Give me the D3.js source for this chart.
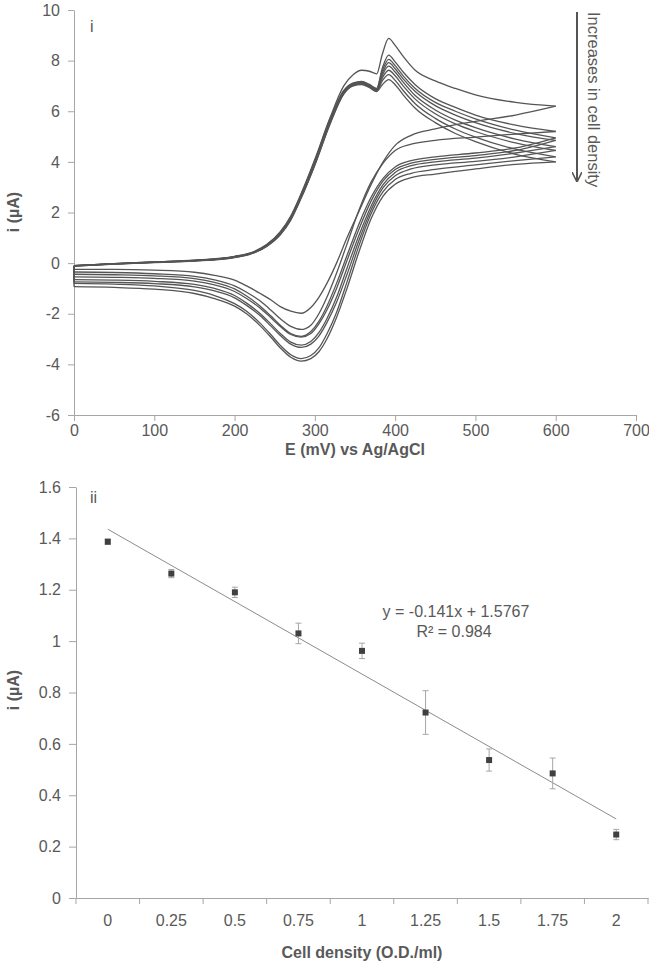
<!DOCTYPE html>
<html><head><meta charset="utf-8">
<script src="https://cdn.jsdelivr.net/npm/d3@7/dist/d3.min.js"></script>
<style>
html,body{margin:0;padding:0;background:#fff;}
text{font-family:"Liberation Sans",Arial,sans-serif;}
</style></head>
<body><svg id="c" width="649" height="964"></svg>
<script>
// ---------- Panel i : cyclic voltammograms ----------
const fwdE = [0, 50, 100, 150, 200, 225, 240, 257, 270, 282, 300, 319, 336, 348, 358, 368, 377, 384, 392, 400, 410, 425, 450, 475, 500, 550, 600];
const revE = [600, 550, 500, 450, 420, 400, 385, 370, 355, 340, 327, 315, 305, 295, 283, 270, 257, 245, 232, 215, 200, 175, 150, 100, 50, 0];

const fwdA = [-0.10,-0.02,0.05,0.12,0.27,0.47,0.73,1.24,1.86,2.68,4.10,5.75,7.00,7.45,7.62,7.58,7.48,8.25,8.88,8.60,8.17,7.62,7.20,6.90,6.65,6.35,6.20];
const fwdB = [-0.10,-0.02,0.05,0.11,0.26,0.46,0.72,1.22,1.83,2.64,4.05,5.70,6.82,7.12,7.18,7.06,6.90,7.70,8.22,7.95,7.55,7.05,6.50,6.15,5.85,5.45,5.20];
const fwdC = [-0.10,-0.02,0.04,0.11,0.25,0.45,0.71,1.20,1.80,2.62,4.02,5.66,6.79,7.10,7.16,7.04,6.88,7.60,8.05,7.80,7.40,6.90,6.35,6.00,5.70,5.25,4.95];
const fwdD = [-0.10,-0.03,0.04,0.10,0.25,0.44,0.70,1.19,1.79,2.60,4.00,5.63,6.77,7.08,7.14,7.02,6.86,7.50,7.92,7.68,7.28,6.78,6.22,5.85,5.55,5.12,4.85];
const fwdE2= [-0.11,-0.03,0.04,0.10,0.24,0.43,0.69,1.17,1.77,2.57,3.97,5.60,6.75,7.06,7.12,7.00,6.84,7.42,7.78,7.55,7.15,6.62,6.05,5.65,5.35,4.90,4.60];
const fwdF = [-0.11,-0.03,0.03,0.09,0.24,0.43,0.68,1.16,1.75,2.55,3.94,5.57,6.73,7.05,7.10,6.98,6.82,7.32,7.62,7.40,7.00,6.48,5.90,5.50,5.20,4.75,4.45];
const fwdG = [-0.12,-0.04,0.03,0.09,0.23,0.42,0.67,1.14,1.73,2.52,3.90,5.53,6.70,7.03,7.08,6.96,6.80,7.20,7.45,7.22,6.82,6.30,5.72,5.30,4.98,4.50,4.20];
const fwdH = [-0.12,-0.04,0.02,0.08,0.22,0.41,0.66,1.12,1.70,2.50,3.87,5.50,6.68,7.00,7.05,6.93,6.78,7.05,7.25,7.05,6.65,6.12,5.55,5.12,4.80,4.30,4.00];

const revA = [6.20,5.85,5.60,5.30,5.05,4.65,4.00,3.10,2.05,1.00,0.00,-0.80,-1.35,-1.75,-1.98,-1.90,-1.72,-1.45,-1.20,-0.90,-0.67,-0.48,-0.36,-0.28,-0.25,-0.25];
const revB = [5.20,5.10,4.98,4.85,4.70,4.45,3.95,3.20,2.10,0.75,-0.40,-1.35,-2.00,-2.45,-2.62,-2.50,-2.20,-1.85,-1.50,-1.15,-0.90,-0.66,-0.52,-0.42,-0.37,-0.35];
const revC = [4.95,4.55,4.35,4.20,4.05,3.80,3.35,2.60,1.55,0.30,-0.80,-1.70,-2.30,-2.70,-2.89,-2.78,-2.45,-2.08,-1.70,-1.30,-1.02,-0.76,-0.61,-0.50,-0.46,-0.44];
const revD = [4.85,4.45,4.25,4.10,3.95,3.70,3.25,2.45,1.35,0.10,-1.00,-1.85,-2.40,-2.78,-2.92,-2.82,-2.50,-2.15,-1.78,-1.40,-1.12,-0.86,-0.71,-0.60,-0.56,-0.54];
const revE2= [4.60,4.35,4.15,4.00,3.85,3.58,3.10,2.25,1.10,-0.20,-1.35,-2.20,-2.75,-3.10,-3.24,-3.12,-2.78,-2.40,-2.00,-1.58,-1.28,-1.00,-0.84,-0.72,-0.67,-0.65];
const revF = [4.45,4.20,4.02,3.88,3.72,3.45,2.98,2.10,0.90,-0.45,-1.55,-2.35,-2.88,-3.20,-3.33,-3.20,-2.86,-2.48,-2.08,-1.67,-1.37,-1.10,-0.94,-0.81,-0.76,-0.74];
const revG = [4.20,4.05,3.88,3.70,3.55,3.30,2.82,1.95,0.70,-0.75,-1.95,-2.80,-3.35,-3.65,-3.77,-3.62,-3.25,-2.82,-2.38,-1.90,-1.60,-1.28,-1.08,-0.90,-0.83,-0.80];
const revH = [4.00,3.90,3.72,3.52,3.38,3.12,2.65,1.75,0.45,-1.00,-2.15,-3.00,-3.50,-3.77,-3.87,-3.72,-3.35,-2.92,-2.48,-2.00,-1.70,-1.40,-1.20,-1.03,-0.96,-0.93];

const forwardScans = [fwdA, fwdB, fwdC, fwdD, fwdE2, fwdF, fwdG, fwdH];
const reverseScans = [revA, revB, revC, revD, revE2, revF, revG, revH];

const topXTicks = [0,100,200,300,400,500,600,700];
const topYTicks = [-6,-4,-2,0,2,4,6,8,10];

// ---------- Panel ii : peak current vs cell density ----------
const densityLabels = ["0","0.25","0.5","0.75","1","1.25","1.5","1.75","2"];
const peakCurrent   = [1.387, 1.263, 1.190, 1.030, 0.962, 0.722, 0.537, 0.485, 0.247];
const peakError     = [0.010, 0.016, 0.020, 0.040, 0.030, 0.085, 0.043, 0.060, 0.020];
const trendEnds     = [1.4357, 0.3077];
const botYTicks = [0,0.2,0.4,0.6,0.8,1,1.2,1.4,1.6];

const svg = d3.select("#c");
const TXT = "#595959", AX = "#a6a6a6";
const plain = d => String(+(+d).toFixed(2));

// ===== Panel i =====
const x1 = d3.scaleLinear().domain([0,700]).range([74,636]);
const y1 = d3.scaleLinear().domain([-6,10]).range([415,10]);

const gT = svg.append("g");
const yAx1 = gT.append("g").attr("transform","translate(74,0)")
  .call(d3.axisLeft(y1).tickValues(topYTicks).tickFormat(plain).tickSize(6).tickPadding(8).tickSizeOuter(0));
const xAx1 = gT.append("g").attr("transform","translate(0,415)")
  .call(d3.axisBottom(x1).tickValues(topXTicks).tickFormat(plain).tickSize(6).tickPadding(4).tickSizeOuter(0));
[yAx1,xAx1].forEach(a=>{
  a.selectAll("path,line").attr("stroke",AX);
  a.selectAll("text").attr("fill",TXT).style("font-size","16px").style("font-family","Liberation Sans, Arial, sans-serif");
});

const line1 = d3.line().x(d=>x1(d[0])).y(d=>y1(d[1])).curve(d3.curveMonotoneX);
const lineStraight = d3.line().x(d=>x1(d[0])).y(d=>y1(d[1]));
const cv = gT.append("g").attr("fill","none").attr("stroke","#555").attr("stroke-width",1.3);
forwardScans.forEach((f,k)=>{
  const r = reverseScans[k];
  cv.append("path").attr("d", line1(fwdE.map((e,i)=>[e,f[i]])));
  cv.append("path").attr("d", line1(revE.map((e,i)=>[e,r[i]])));
  cv.append("path").attr("d", lineStraight([[0, r[r.length-1]],[0, f[0]]]));
});

gT.append("text").attr("x",90).attr("y",32).attr("fill",TXT).style("font-size","16px").text("i");
gT.append("text").attr("transform","translate(19,212) rotate(-90)").attr("text-anchor","middle")
  .attr("fill",TXT).style("font-size","16px").style("font-weight","bold").text("i (µA)");
gT.append("text").attr("x",355).attr("y",455).attr("text-anchor","middle")
  .attr("fill",TXT).style("font-size","16px").style("font-weight","bold").text("E (mV) vs Ag/AgCl");

// arrow
const defs = svg.append("defs");
defs.append("marker").attr("id","ah").attr("viewBox","0 0 10 10").attr("refX",9).attr("refY",5)
  .attr("markerWidth",5).attr("markerHeight",5).attr("orient","auto")
  .append("path").attr("d","M0,0 L10,5 L0,10").attr("fill","none").attr("stroke","#555").attr("stroke-width",1.6);
gT.append("line").attr("x1",577).attr("x2",577).attr("y1",12).attr("y2",181)
  .attr("stroke","#555").attr("stroke-width",2).attr("marker-end","url(#ah)");
gT.append("text").attr("transform","translate(588,12) rotate(90)")
  .attr("fill",TXT).style("font-size","16.5px").text("Increases in cell density");

// ===== Panel ii =====
const x2 = d3.scaleBand().domain(densityLabels).range([76,648]);
const y2 = d3.scaleLinear().domain([0,1.6]).range([898,487]);
const gB = svg.append("g");
const yAx2 = gB.append("g").attr("transform","translate(76,0)")
  .call(d3.axisLeft(y2).tickValues(botYTicks).tickFormat(plain).tickSize(7).tickPadding(8).tickSizeOuter(0));
const xAx2 = gB.append("g").attr("transform","translate(0,898)")
  .call(d3.axisBottom(x2).tickSize(0).tickPadding(17).tickSizeOuter(0));
xAx2.selectAll(".tick line").remove();
const bounds = densityLabels.map(c=>x2(c)).concat([x2.range()[1]]);
gB.append("g").selectAll("line").data(bounds).join("line")
  .attr("x1",d=>d).attr("x2",d=>d).attr("y1",898).attr("y2",904).attr("stroke",AX);
[yAx2,xAx2].forEach(a=>{
  a.selectAll("path,line").attr("stroke",AX);
  a.selectAll("text").attr("fill",TXT).style("font-size","16px").style("font-family","Liberation Sans, Arial, sans-serif");
});

const cx = c=>x2(c)+x2.bandwidth()/2;
// trendline
gB.append("line")
  .attr("x1",cx(densityLabels[0])).attr("y1",y2(trendEnds[0]))
  .attr("x2",cx(densityLabels[densityLabels.length-1])).attr("y2",y2(trendEnds[1]))
  .attr("stroke","#8c8c8c").attr("stroke-width",1);
// error bars
const eb = gB.append("g").attr("stroke","#a6a6a6").attr("stroke-width",1);
densityLabels.forEach((c,i)=>{
  const xc = cx(c), hi = y2(peakCurrent[i]+peakError[i]), lo = y2(peakCurrent[i]-peakError[i]);
  eb.append("line").attr("x1",xc).attr("x2",xc).attr("y1",hi).attr("y2",lo);
  eb.append("line").attr("x1",xc-3).attr("x2",xc+3).attr("y1",hi).attr("y2",hi);
  eb.append("line").attr("x1",xc-3).attr("x2",xc+3).attr("y1",lo).attr("y2",lo);
});
gB.append("g").selectAll("rect").data(densityLabels).join("rect")
  .attr("x",c=>cx(c)-3).attr("y",(c,i)=>y2(peakCurrent[i])-3).attr("width",6).attr("height",6).attr("fill","#404040");

gB.append("text").attr("x",456).attr("y",617).attr("text-anchor","middle").attr("fill",TXT).style("font-size","16px").text("y = -0.141x + 1.5767");
gB.append("text").attr("x",454).attr("y",637).attr("text-anchor","middle").attr("fill",TXT).style("font-size","16px").text("R² = 0.984");
gB.append("text").attr("x",90).attr("y",503).attr("fill",TXT).style("font-size","16px").text("ii");
gB.append("text").attr("transform","translate(19,690) rotate(-90)").attr("text-anchor","middle")
  .attr("fill",TXT).style("font-size","16px").style("font-weight","bold").text("i (µA)");
gB.append("text").attr("x",362).attr("y",958).attr("text-anchor","middle")
  .attr("fill",TXT).style("font-size","16px").style("font-weight","bold").text("Cell density (O.D./ml)");
</script></body></html>
